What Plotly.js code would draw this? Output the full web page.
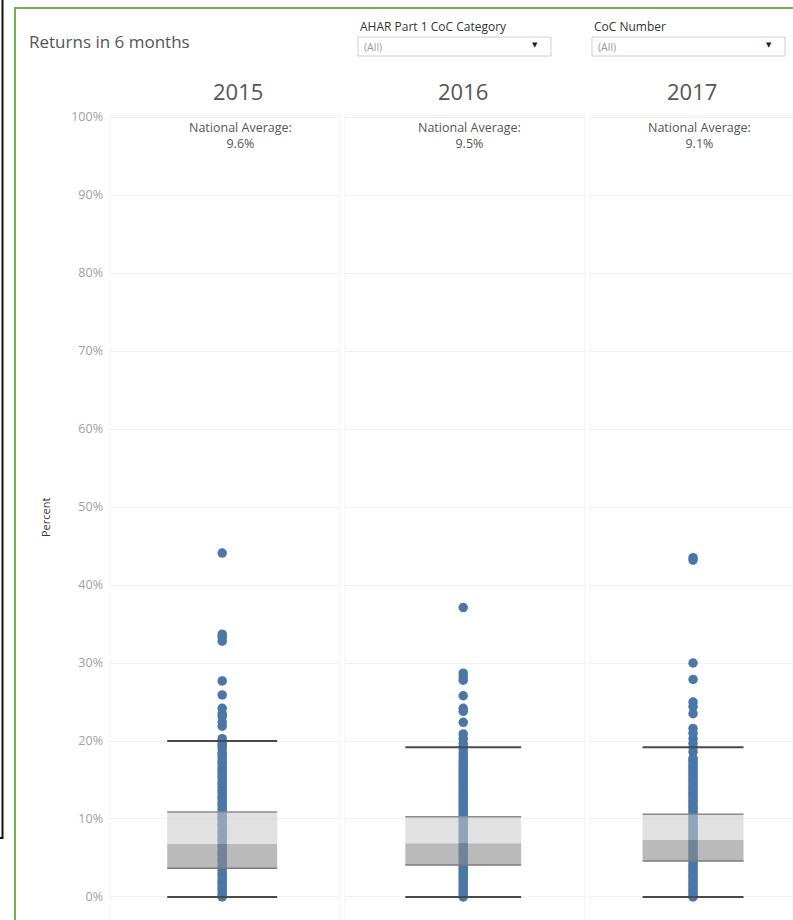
<!DOCTYPE html>
<html>
<head>
<meta charset="utf-8">
<script src="https://cdn.plot.ly/plotly-3.0.1.min.js"></script>
<style>
  html, body { margin: 0; padding: 0; background: #ffffff; }
  #chart { width: 793px; height: 920px; }
</style>
</head>
<body>
<div id="chart"></div>
<script>
// ---------------- data (values in percent) ----------------
const years = ['2015', '2016', '2017'];
const nationalAverage = [9.6, 9.5, 9.1];
const lowerWhisker = [0.0, 0.0, 0.0];
const q1 = [3.7, 4.1, 4.6];
const median = [6.8, 6.9, 7.3];
const q3 = [10.9, 10.3, 10.6];
const upperWhisker = [20.0, 19.2, 19.2];

const points2015 = [44.1, 33.7, 33.3, 32.8, 27.7, 25.9, 24.2, 23.5, 23.1, 22.4, 21.9,
  20.3, 20.0, 19.6, 19.4, 19.0, 18.5, 18.3, 18.0, 17.6, 17.3, 17.1, 16.7, 16.4, 16.2,
  15.8, 15.5, 15.3, 14.9, 14.6, 14.4, 14.0, 13.7, 13.5, 13.1, 12.8, 12.6, 12.2, 11.9,
  11.7, 11.3, 11.0, 10.8, 10.4, 10.1, 9.9, 9.5, 9.2, 9.0, 8.6, 8.3, 8.1, 7.7, 7.4,
  7.2, 6.8, 6.5, 6.3, 5.9, 5.6, 5.4, 5.0, 4.7, 4.5, 4.1, 3.8, 3.6, 3.2, 2.9, 2.7,
  2.3, 2.0, 1.8, 1.4, 1.1, 0.9, 0.5, 0.2, 0.0];
const points2016 = [37.1, 28.7, 28.2, 27.8, 25.8, 24.2, 23.8, 22.4, 20.9, 20.3, 19.7,
  19.3, 18.9, 18.4, 18.0, 17.6, 17.3, 17.0, 16.7, 16.4, 16.1, 15.8, 15.5, 15.2, 14.9,
  14.6, 14.3, 14.0, 13.7, 13.4, 13.1, 12.8, 12.5, 12.2, 11.9, 11.6, 11.3, 11.0, 10.7,
  10.4, 10.1, 9.8, 9.5, 9.2, 8.9, 8.6, 8.3, 8.0, 7.7, 7.4, 7.1, 6.8, 6.5, 6.2, 5.9,
  5.6, 5.3, 5.0, 4.7, 4.4, 4.1, 3.8, 3.5, 3.2, 2.9, 2.6, 2.3, 2.0, 1.7, 1.4, 1.1,
  0.8, 0.5, 0.2, 0.0];
const points2017 = [43.5, 43.2, 30.0, 27.9, 25.0, 24.4, 23.5, 21.6, 21.0, 20.3, 19.7,
  19.2, 18.6, 17.8, 17.5, 17.2, 16.9, 16.6, 16.3, 16.0, 15.7, 15.4, 15.1, 14.8, 14.5,
  14.2, 13.9, 13.6, 13.3, 13.0, 12.7, 12.4, 12.1, 11.8, 11.5, 11.2, 10.9, 10.6, 10.3,
  10.0, 9.7, 9.4, 9.1, 8.8, 8.5, 8.2, 7.9, 7.6, 7.3, 7.0, 6.7, 6.4, 6.1, 5.8, 5.5,
  5.2, 4.9, 4.6, 4.3, 4.0, 3.7, 3.4, 3.1, 2.8, 2.5, 2.2, 1.9, 1.6, 1.3, 1.0, 0.7,
  0.4, 0.1, 0.0];
const pointsByYear = [points2015, points2016, points2017];

const yTickVals = [0, 10, 20, 30, 40, 50, 60, 70, 80, 90, 100];
const yTickText = ['0%', '10%', '20%', '30%', '40%', '50%', '60%', '70%', '80%', '90%', '100%'];

// ---------------- layout helpers ----------------
const W = 793, H = 920;
const px = v => v / W;          // x pixel -> paper
const py = v => 1 - v / H;      // y pixel -> paper
const FONT = 'Open Sans, Lato, sans-serif';

const axisSuffix = ['', '2', '3'];
const panelPx = [[110, 340], [345, 585], [590, 793]];
const panelRange = [[-1, 1.05], [-1, 1.03], [-1, 0.97]];
const yearCenterPx = [238, 463, 692];
const avgCenterPx = [240, 469, 699];
const halfW = 0.49;

const DOT = '#4a76a8';
const traces = [];

years.forEach((yr, i) => {
  const xa = 'x' + axisSuffix[i];
  const pts = pointsByYear[i];
  // points
  traces.push({
    type: 'scatter', mode: 'markers', xaxis: xa, yaxis: 'y',
    x: pts.map(() => 0), y: pts,
    marker: { size: 9.5, color: DOT, line: { width: 0 } },
    hoverinfo: 'skip'
  });
  // lower band (Q1 -> median), darker
  traces.push({
    type: 'scatter', mode: 'lines', xaxis: xa, yaxis: 'y',
    x: [-halfW, halfW, halfW, -halfW, -halfW],
    y: [q1[i], q1[i], median[i], median[i], q1[i]],
    fill: 'toself', fillcolor: 'rgba(140,140,140,0.6)',
    line: { width: 0 }, hoverinfo: 'skip'
  });
  // upper band (median -> Q3), lighter
  traces.push({
    type: 'scatter', mode: 'lines', xaxis: xa, yaxis: 'y',
    x: [-halfW, halfW, halfW, -halfW, -halfW],
    y: [median[i], median[i], q3[i], q3[i], median[i]],
    fill: 'toself', fillcolor: 'rgba(200,200,200,0.55)',
    line: { width: 0 }, hoverinfo: 'skip'
  });
  // box edges
  [[q3[i], '#8a8a8a'], [q1[i], '#7a7a7a']].forEach(([v, c]) => {
    traces.push({
      type: 'scatter', mode: 'lines', xaxis: xa, yaxis: 'y',
      x: [-halfW, halfW], y: [v, v],
      line: { color: c, width: 1.5 }, hoverinfo: 'skip'
    });
  });
  // whiskers
  [upperWhisker[i], lowerWhisker[i]].forEach(v => {
    traces.push({
      type: 'scatter', mode: 'lines', xaxis: xa, yaxis: 'y',
      x: [-halfW, halfW], y: [v, v],
      line: { color: '#4a4a4a', width: 2 }, hoverinfo: 'skip'
    });
  });
});

const layout = {
  width: W, height: H,
  margin: { l: 0, r: 0, t: 0, b: 0 },
  paper_bgcolor: '#ffffff', plot_bgcolor: 'rgba(0,0,0,0)',
  showlegend: false, hovermode: false,
  font: { family: FONT, color: '#555' },
  yaxis: {
    domain: [0, py(115)],
    range: [-2.95, 100.26],
    tickmode: 'array', tickvals: yTickVals, ticktext: yTickText,
    tickfont: { size: 12.5, color: '#a0a0a0', family: FONT },
    ticks: '', ticklabelstandoff: 6,
    showgrid: true, gridcolor: '#f1f1f1', gridwidth: 1,
    zeroline: false, showline: false, anchor: 'x', fixedrange: true
  },
  shapes: [],
  annotations: []
};

years.forEach((yr, i) => {
  const key = 'xaxis' + axisSuffix[i];
  layout[key] = {
    domain: [px(panelPx[i][0]), px(panelPx[i][1])],
    range: panelRange[i],
    showgrid: false, zeroline: false, showticklabels: false,
    ticks: '', showline: false, anchor: 'y', fixedrange: true
  };
  // panel border
  layout.shapes.push({
    type: 'rect', xref: 'paper', yref: 'paper', layer: 'below',
    x0: px(panelPx[i][0]), x1: px(panelPx[i][1]),
    y0: -0.02, y1: py(115),
    line: { color: '#f2f2f2', width: 1 }, fillcolor: 'rgba(0,0,0,0)'
  });
  // year header
  layout.annotations.push({
    xref: 'paper', yref: 'paper', x: px(yearCenterPx[i]), y: py(91),
    xanchor: 'center', yanchor: 'middle', showarrow: false,
    text: yr, font: { size: 22, color: '#555', family: FONT }
  });
  // national average
  layout.annotations.push({
    xref: 'paper', yref: 'paper', x: px(avgCenterPx[i]), y: py(135),
    xanchor: 'center', yanchor: 'middle', showarrow: false,
    text: 'National Average:<br>' + nationalAverage[i].toFixed(1) + '%',
    font: { size: 12.5, color: '#555', family: FONT }
  });
});

// frame lines
layout.shapes.push({
  type: 'rect', xref: 'paper', yref: 'paper',
  x0: px(15), x1: 1.02, y0: -0.02, y1: py(8),
  line: { color: '#72b04e', width: 2 }, fillcolor: 'rgba(0,0,0,0)'
});
layout.shapes.push({
  type: 'rect', xref: 'paper', yref: 'paper',
  x0: -0.02, x1: px(2.5), y0: py(838), y1: 1.02,
  line: { color: '#111', width: 2 }, fillcolor: 'rgba(0,0,0,0)'
});

// filter controls
const filters = [
  { label: 'AHAR Part 1 CoC Category', x0: 358, x1: 551 },
  { label: 'CoC Number', x0: 592, x1: 785 }
];
filters.forEach(f => {
  layout.shapes.push({
    type: 'rect', xref: 'paper', yref: 'paper',
    x0: px(f.x0), x1: px(f.x1), y0: py(56), y1: py(37),
    line: { color: '#cfcfcf', width: 1 }, fillcolor: '#ffffff'
  });
  layout.annotations.push({
    xref: 'paper', yref: 'paper', x: px(f.x0), y: py(27),
    xanchor: 'left', yanchor: 'middle', showarrow: false,
    text: f.label, font: { size: 12, color: '#333', family: FONT }
  });
  layout.annotations.push({
    xref: 'paper', yref: 'paper', x: px(f.x0 + 4), y: py(47),
    xanchor: 'left', yanchor: 'middle', showarrow: false,
    text: '(All)', font: { size: 10.5, color: '#999', family: FONT }
  });
  layout.annotations.push({
    xref: 'paper', yref: 'paper', x: px(f.x1 - 16), y: py(45),
    xanchor: 'center', yanchor: 'middle', showarrow: false,
    text: '▼', font: { size: 7, color: '#222', family: 'DejaVu Sans' }
  });
});

// title
layout.annotations.push({
  xref: 'paper', yref: 'paper', x: px(27), y: py(41),
  xanchor: 'left', yanchor: 'middle', showarrow: false,
  text: 'Returns in 6 months', font: { size: 17, color: '#555', family: FONT }
});
// y axis title
layout.annotations.push({
  xref: 'paper', yref: 'paper', x: px(45), y: py(518),
  xanchor: 'center', yanchor: 'middle', showarrow: false, textangle: -90,
  text: 'Percent', font: { size: 11, color: '#333', family: FONT }
});

Plotly.newPlot('chart', traces, layout, { displayModeBar: false, staticPlot: true });
</script>
</body>
</html>
